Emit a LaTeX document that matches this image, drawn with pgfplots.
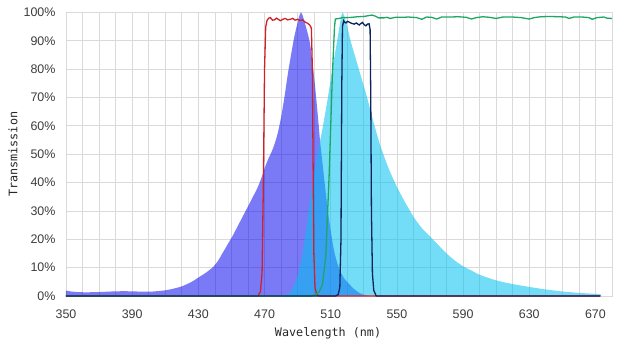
\documentclass[border=0pt]{standalone}
\usepackage{pgfplots}
\pgfplotsset{compat=1.18}
\usepackage{fontspec}
\setmainfont{Liberation Sans}
\newfontfamily\monofont{DejaVu Sans Mono}
\definecolor{gridc}{RGB}{218,218,218}
\definecolor{violetf}{RGB}{0,0,240}
\definecolor{cyanf}{RGB}{0,192,240}
\definecolor{redl}{RGB}{208,32,40}
\definecolor{greenl}{RGB}{28,168,100}
\definecolor{navyl}{RGB}{14,34,92}
\definecolor{tickc}{RGB}{60,60,60}
\begin{document}
\begin{tikzpicture}
\begin{axis}[
  scale only axis,
  width=546bp, height=283.5bp,
  xmin=350, xmax=680, ymin=0, ymax=100,
  xtick={350,390,430,470,510,550,590,630,670},
  xticklabels={350,390,430,470,510,550,590,630,670},
  minor x tick num=3,
  ytick={0,10,20,30,40,50,60,70,80,90,100},
  yticklabels={0\%,10\%,20\%,30\%,40\%,50\%,60\%,70\%,80\%,90\%,100\%},
  major tick length=0pt, minor tick length=0pt,
  grid=both,
  major grid style={draw=gridc, line width=0.8bp},
  minor grid style={draw=gridc, line width=0.8bp},
  axis line style={draw=gridc, line width=0.8bp},
  ticklabel style={font=\fontsize{12.5}{14}\selectfont, text=tickc},
  yticklabel style={xshift=-7bp},
  xticklabel style={yshift=-10bp},
  xlabel={Wavelength (nm)},
  ylabel={Transmission},
  label style={font=\monofont\fontsize{11.8}{13}\selectfont, text=black!85},
  xlabel style={at={(axis description cs:0.48,-0.13)}, anchor=center},
  ylabel style={at={(axis description cs:-0.097,0.5)}, anchor=center},
  clip=true,
]
% excitation spectrum (violet)
\addplot[draw=none, fill=violetf, fill opacity=0.52, smooth, tension=0.4] coordinates {
(350,1.9) (353,1.6) (357,1.4) (362,1.3) (370,1.4) (378,1.6) (385,1.7) (392,1.6) (400,1.5) (405,1.7) (410,2.0) (415,2.6) (420,3.4) (426,5.0) (430,6.5) (435,8.4) (439,10.3) (442,12.5) (445,15.5) (448,18.5) (451,21.5) (455,26) (459,30.5) (463,35) (466,38.5) (468,41.5) (470,45) (472,48) (474,50.5) (476,53.5) (478,57.5) (480,63) (482,70) (484,78) (486,85) (488,91.5) (490,96.5) (491,98.8) (492,100) (493,99) (495,95) (497.5,89) (500,77) (502,65) (503.5,55) (505,47) (506.5,39) (508.5,29) (510,23) (512,16) (514,11.5) (516,8.5) (518,6.3) (521,4.3) (524,2.5) (527,1.2) (530,0.4) (534,0)
} \closedcycle;
% emission spectrum (cyan)
\addplot[draw=none, fill=cyanf, fill opacity=0.55, smooth, tension=0.4] coordinates {
(481,0) (483,0.5) (486,1.5) (488,4) (490,7) (493,15) (496,27) (499,40) (502,50) (505,59) (508,69) (511,80) (513,87) (515,94) (516,97.5) (517,100) (518,99) (520,95) (522,90) (525,84) (528,78) (532,70) (536,61) (540,53) (545,45) (550,38.5) (555,33) (560,28) (565,24) (570,21) (575,18) (580,15) (585,12.5) (590,10.5) (595,9) (600,7.5) (610,5.5) (620,4.2) (630,3.2) (640,2.3) (650,1.6) (660,1.1) (673,0.6) (673,0)
} \closedcycle;
% excitation filter (red)
\addplot[draw=redl, line width=1.3bp] coordinates {
(350,0) (466,0) (467.5,1.5) (468.5,8) (469.3,40) (470,80) (470.7,95) (471.5,97.2) (472.5,98) (473.5,98.2) (474.8,97.3) (476,97.4) (477.2,98) (478.5,97.5) (479.6,97.1) (481,97.6) (482.5,97.9) (484,97.4) (485.5,97.6) (487,97.9) (488.5,97.3) (490,97.6) (491.5,97.2) (493,97.4) (494.5,96.6) (496,96.2) (497.3,95.6) (498.3,94.5) (498.9,80) (499.3,50) (499.8,15) (500.5,3) (501.5,0.5) (503,0) (673,0)
};
% dichroic (green)
\addplot[draw=greenl, line width=1.3bp] coordinates {
(350,0) (498,0) (501,0.5) (503,1.5) (505,4) (507,14) (509,42) (511,78) (512.3,95) (512.8,97.7) (515,97.9) (517,98.2) (520,98.2) (523,98.3) (526,98.5) (530,98.6) (533,98.9) (535,99.1) (537,98.7) (539,98.1) (542,98.1) (544,98.3) (546,97.9) (549,98.3) (553,98.3) (557,98.4) (562,98.2) (565,97.6) (568,98.4) (571,98.3) (574,97.7) (577,98.4) (582,98.4) (587,98.5) (592,98.3) (595,97.7) (598,98.2) (602,98.5) (606,98.3) (610,97.9) (614,98.4) (620,98.4) (625,98.2) (630,97.7) (633,98.2) (637,98.5) (642,98.6) (648,98.5) (652,98.4) (654,97.9) (657,98.4) (662,98.4) (666,98.2) (668,97.6) (671,98.2) (675,98.4) (677,98.0) (680,97.9)
};
% emission filter (navy)
\addplot[draw=navyl, line width=1.3bp] coordinates {
(350,0) (513,0) (514.5,0.5) (515.5,3) (516.2,20) (516.7,75) (517.1,95) (517.8,97.1) (518.5,96.5) (519.2,96.3) (520.2,96.9) (521.2,96.6) (522.5,96.2) (524.2,95.9) (525.5,96.3) (527.2,95.6) (528.2,96.1) (529.2,96.5) (530.2,95.7) (531.2,95.3) (532.2,95.9) (533.2,96.0) (533.8,94) (534.2,70) (534.6,30) (535.2,8) (536,2) (537.5,0) (673,0)
};
\end{axis}
\path (-66bp,-50bp) rectangle (559bp,296bp);
\end{tikzpicture}
\end{document}
